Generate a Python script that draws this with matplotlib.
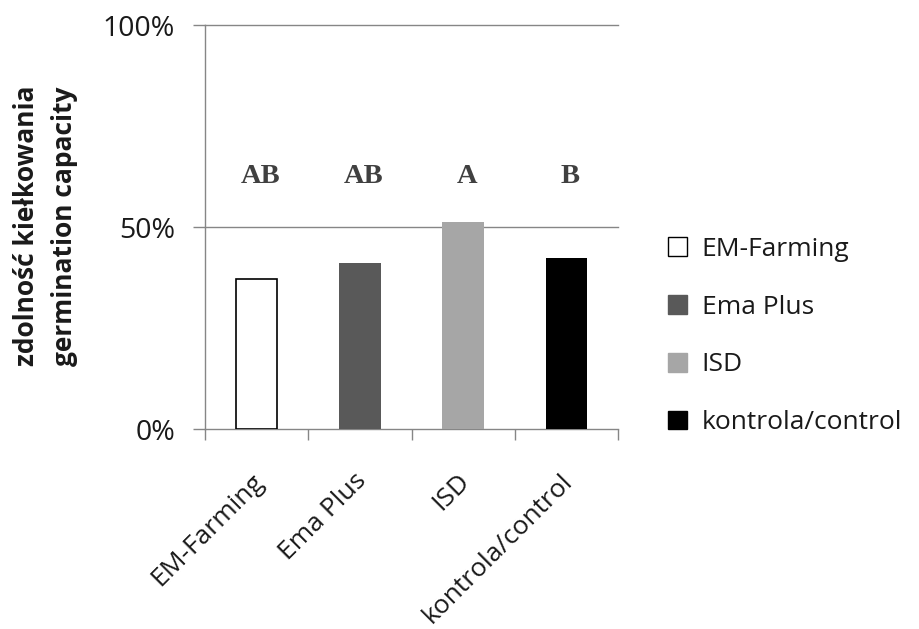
import numpy as np
import matplotlib.pyplot as plt
import matplotlib.transforms as mtransforms
from matplotlib.patches import Patch

# values (fraction in %)
groups = ['EM-Farming', 'Ema Plus', 'ISD', 'kontrola/control']
germination = [37.1, 41.0, 51.2, 42.3]
letters = ['AB', 'AB', 'A', 'B']
bar_colors = ['#ffffff', '#595959', '#a6a6a6', '#000000']
yticks = [0, 50, 100]
ytick_labels = ['0%', '50%', '100%']

grid_col = '#868686'
txt_col = '#1a1a1a'
sans = 'Open Sans'

fig = plt.figure(figsize=(9.19, 6.29), dpi=100)
W, H = 919, 629
ax = fig.add_axes([205 / W, (H - 429) / H, 413 / W, 404 / H])

x = np.arange(len(groups))
ax.bar(x, germination, width=0.4, color=bar_colors, edgecolor=['#000000', 'none', 'none', 'none'],
       linewidth=1.2, zorder=3)

ax.set_xlim(-0.5, len(groups) - 0.5)
ax.set_ylim(0, 100)

# y axis
ax.set_yticks(yticks)
ax.set_yticklabels(ytick_labels, fontsize=20.5, family=sans, color=txt_col)
ax.tick_params(axis='y', length=8.6, width=1, color=grid_col, pad=13)
for v in yticks[1:]:
    ax.axhline(v, color=grid_col, lw=1, zorder=1, clip_on=False)

# x axis: ticks at boundaries, labels in the middle
ax.set_xticks(np.arange(-0.5, len(groups)), minor=False)
ax.set_xticklabels([])
ax.tick_params(axis='x', which='major', length=8, width=1, color=grid_col)
ax.set_xticks(x, minor=True)
ax.set_xticklabels(groups, minor=True, rotation=45, ha='right', va='center',
                   rotation_mode='anchor', fontsize=19, family=sans, color=txt_col)
ax.tick_params(axis='x', which='minor', length=0, pad=35)
shift = mtransforms.ScaledTranslation(3 / 100, 0, fig.dpi_scale_trans)
for lab in ax.get_xticklabels(minor=True):
    lab.set_transform(lab.get_transform() + shift)

for side in ['top', 'right']:
    ax.spines[side].set_visible(False)
for side in ['left', 'bottom']:
    ax.spines[side].set_color(grid_col)
    ax.spines[side].set_linewidth(1)

# significance letters
for xi, lt in zip(x, letters):
    ax.text(xi + 0.04, 62.6, lt, ha='center', va='center', fontsize=20.5,
            family='Liberation Serif', weight='bold', color='#404040')

# y label, two lines
fig.text(27 / W, (H - 226) / H, 'zdolność kiełkowania', rotation=90, ha='center', va='center',
         fontsize=19, family=sans, weight='bold', color=txt_col)
fig.text(65 / W, (H - 226) / H, 'germination capacity', rotation=90, ha='center', va='center',
         fontsize=19, family=sans, weight='bold', color=txt_col)

handles = [Patch(facecolor=c, edgecolor='#000000' if c == '#ffffff' else c, linewidth=1)
           for c in bar_colors]
leg = fig.legend(handles, groups, loc='upper left', bbox_to_anchor=(668 / W, (H - 237) / H),
                 frameon=False, prop={'family': sans, 'size': 19}, handlelength=0.72,
                 handleheight=0.72, handletextpad=0.55, labelspacing=1.24, borderpad=0,
                 borderaxespad=0)
for t in leg.get_texts():
    t.set_color(txt_col)

fig.savefig('out.png', dpi=100)
